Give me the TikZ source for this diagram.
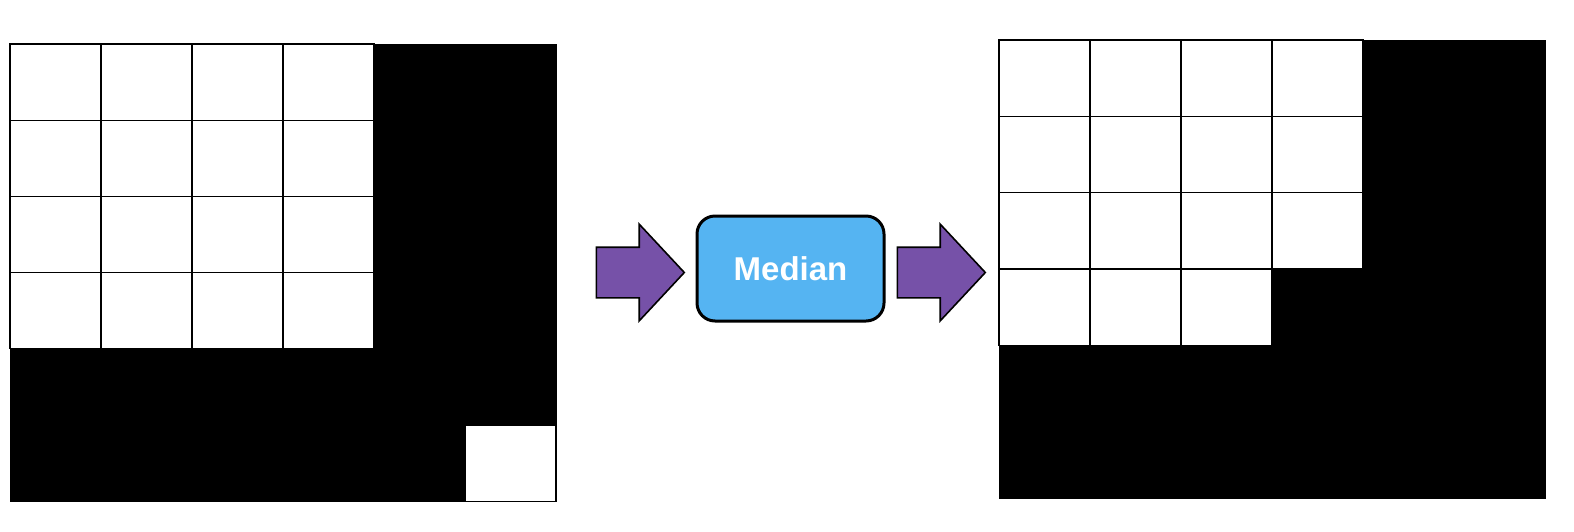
\documentclass[tikz,border=0pt]{standalone}
\usepackage{fontspec}
\setmainfont{Liberation Sans}
\usetikzlibrary{shapes.arrows}
\definecolor{boxBlue}{HTML}{55B4F2}
\definecolor{arrowPurple}{HTML}{7651A8}
\begin{document}
\begin{tikzpicture}
[x=1pt,y=-1pt,
  imageDecorate/.style={shape=rectangle,inner sep=0pt,fill=black,draw=black,line width=1pt,
    minimum width=546pt,minimum height=457pt},
  cellDecorate/.style={shape=rectangle,inner sep=0pt,fill=white,draw=black,line width=1.3pt,
    minimum width=91pt,minimum height=76.2pt},
  arrowDecorate/.style={single arrow,anchor=tail,inner xsep=0pt,inner ysep=24.5pt,
    fill=arrowPurple,draw=black,line width=1.6pt,minimum height=88pt,
    single arrow head extend=23pt,single arrow tip angle=94},
  filterDecorate/.style={shape=rectangle,rounded corners=18pt,fill=boxBlue,draw=black,
    line width=3pt,minimum width=187pt,minimum height=105pt,text=white,
    font=\fontsize{33}{40}\selectfont\bfseries}]
\useasboundingbox (0,0) rectangle (1574,531);
%% input image
\node (input) at (283,272.5) [imageDecorate] {};
\foreach \r in {0,...,3}
  \foreach \c in {0,...,3}
  {
    \node (in-\r-\c) at ({10+91*(\c+0.5)},{44+76.2*(\r+0.5)}) [cellDecorate] {};
  }
\node (in-5-5) at ({10+91*5.5},{44+76.2*5.5}) [cellDecorate] {};
%% output image
\node (output) at (1272,269) [imageDecorate,minimum height=458pt] {};
\foreach \r/\cmax in {0/3, 1/3, 2/3, 3/2}
  \foreach \c in {0,...,\cmax}
  {
    \node (out-\r-\c) at ({999+91*(\c+0.5)},{40+76.33*(\r+0.5)}) [cellDecorate,minimum height=76.33pt] {};
  }
%% filter and arrows
\node (median) at (790.5,268.5) [filterDecorate] {Median};
\node (arrowIn) at (595.5,272.5) [arrowDecorate] {};
\node (arrowOut) at (896.5,272.5) [arrowDecorate] {};
\end{tikzpicture}
\end{document}
